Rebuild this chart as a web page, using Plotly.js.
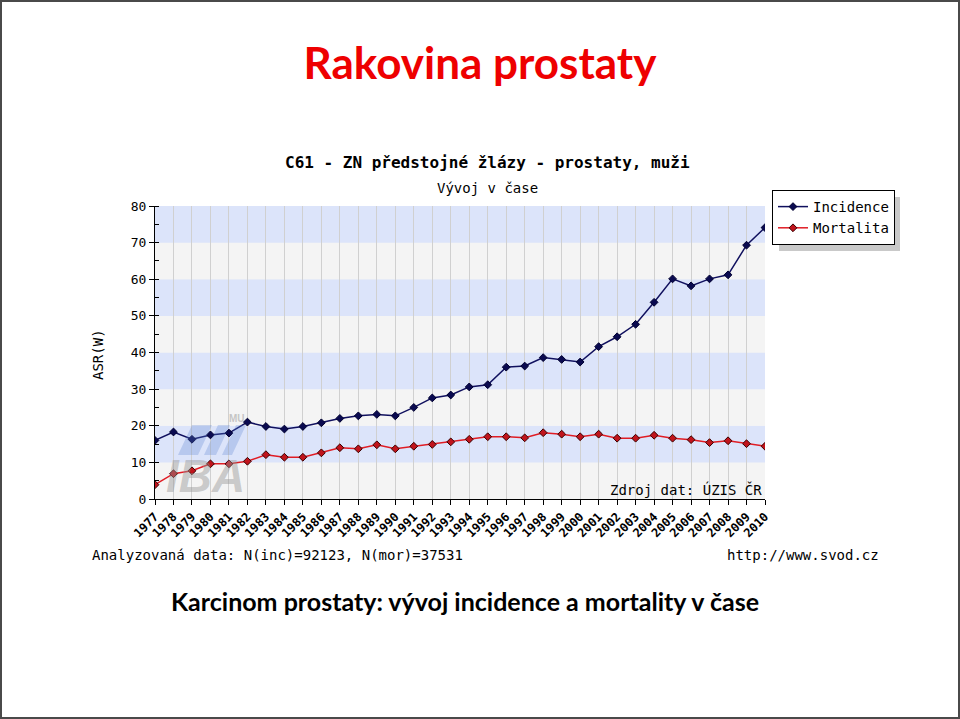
<!DOCTYPE html>
<html>
<head>
<meta charset="utf-8">
<script src="https://cdn.plot.ly/plotly-3.0.1.min.js"></script>
<style>
  html, body { margin: 0; padding: 0; background: #fff; }
  #wrap { position: relative; width: 960px; height: 719px; }
  #chart { width: 960px; height: 719px; }
  #frame { position: absolute; left: 0; top: 0; width: 960px; height: 719px; box-sizing: border-box; border: 2px solid #4a4a4a; pointer-events: none; }
</style>
</head>
<body>
<div id="wrap"><div id="chart"></div><div id="frame"></div></div>
<script>
// ---- data ----
const years = [1977,1978,1979,1980,1981,1982,1983,1984,1985,1986,1987,1988,1989,1990,1991,1992,1993,
               1994,1995,1996,1997,1998,1999,2000,2001,2002,2003,2004,2005,2006,2007,2008,2009,2010];
const incidence = [16.0,18.3,16.3,17.5,18.0,21.0,19.8,19.1,19.8,20.8,22.0,22.7,23.1,22.7,25.0,27.6,28.4,
                   30.6,31.2,36.0,36.3,38.6,38.1,37.4,41.6,44.3,47.7,53.7,60.1,58.2,60.1,61.2,69.3,74.1];
const mortality = [3.9,6.9,7.7,9.6,9.6,10.3,12.1,11.4,11.4,12.6,14.0,13.7,14.8,13.7,14.4,14.9,15.6,
                   16.3,17.0,17.0,16.7,18.1,17.7,17.0,17.7,16.6,16.6,17.4,16.6,16.2,15.4,15.9,15.1,14.4];
const seriesNames = ['Incidence', 'Mortalita'];
const yTicks = [0,10,20,30,40,50,60,70,80];

// ---- layout helpers (pixel -> paper) ----
const L = 155, R = 765, T = 206, B = 499;
const px = x => (x - L) / (R - L);
const py = y => (B - y) / (B - T);
const mono = 'DejaVu Sans Mono, monospace';

const traces = [
  { x: years, y: incidence, name: seriesNames[0], type: 'scatter', mode: 'lines+markers',
    line: { color: '#10105e', width: 1.5 },
    marker: { symbol: 'diamond', size: 6, color: '#0a0a50', line: { color: '#000030', width: 1 } } },
  { x: years, y: mortality, name: seriesNames[1], type: 'scatter', mode: 'lines+markers',
    line: { color: '#e01c24', width: 1.5 },
    marker: { symbol: 'diamond', size: 6, color: '#c0141c', line: { color: '#3a0000', width: 1 } } }
];

// background bands
const shapes = [];
for (let i = 0; i < yTicks.length - 1; i++) {
  shapes.push({ type: 'rect', xref: 'paper', yref: 'y', x0: 0, x1: 1, y0: yTicks[i], y1: yTicks[i+1],
    layer: 'below', line: { width: 0 }, fillcolor: (i % 2 === 1) ? '#dce4fa' : '#f4f4f4' });
}
// legend shadow
shapes.push({ type: 'rect', xref: 'paper', yref: 'paper', x0: px(779), x1: px(900), y0: py(251), y1: py(197),
  line: { width: 0 }, fillcolor: '#c9c9c9', layer: 'below' });
// watermark stripes
shapes.push({ type: 'path', xref: 'paper', yref: 'paper', layer: 'above',
  path: `M ${px(178)} ${py(455)} L ${px(192)} ${py(425)} L ${px(212)} ${py(425)} L ${px(198)} ${py(455)} Z ` +
        `M ${px(204)} ${py(455)} L ${px(218)} ${py(425)} L ${px(230)} ${py(425)} L ${px(216)} ${py(455)} Z ` +
        `M ${px(222)} ${py(455)} L ${px(236)} ${py(425)} L ${px(246)} ${py(425)} L ${px(232)} ${py(455)} Z`,
  fillcolor: 'rgba(90,130,210,0.28)', line: { width: 0 } });

const annotations = [
  { text: '<b>C61 - ZN předstojné žlázy - prostaty, muži</b>', xref: 'paper', yref: 'paper',
    x: px(487), y: py(162), xanchor: 'center', yanchor: 'middle', showarrow: false,
    font: { family: mono, size: 16, color: '#000' } },
  { text: 'Vývoj v čase', xref: 'paper', yref: 'paper', x: px(487), y: py(188),
    xanchor: 'center', yanchor: 'middle', showarrow: false, font: { family: mono, size: 14, color: '#000' } },
  { text: 'ASR(W)', xref: 'paper', yref: 'paper', x: px(98), y: py(355), textangle: -90,
    xanchor: 'center', yanchor: 'middle', showarrow: false, font: { family: mono, size: 14, color: '#000' } },
  { text: 'Analyzovaná data: N(inc)=92123, N(mor)=37531', xref: 'paper', yref: 'paper', x: px(90), y: py(555),
    xanchor: 'left', yanchor: 'middle', showarrow: false, font: { family: mono, size: 14, color: '#000' } },
  { text: 'http://www.svod.cz', xref: 'paper', yref: 'paper', x: px(881), y: py(555),
    xanchor: 'right', yanchor: 'middle', showarrow: false, font: { family: mono, size: 14, color: '#000' } },
  { text: 'Zdroj dat: ÚZIS ČR', xref: 'paper', yref: 'paper', x: px(764), y: py(489),
    xanchor: 'right', yanchor: 'middle', showarrow: false, font: { family: mono, size: 14, color: '#000' } },
  { text: '<b><i>IBA</i></b>', xref: 'paper', yref: 'paper', x: px(205), y: py(476),
    xanchor: 'center', yanchor: 'middle', showarrow: false,
    font: { family: 'Liberation Sans, Arial', size: 46, color: 'rgba(150,150,150,0.45)' } },
  { text: '<b>MU</b>', xref: 'paper', yref: 'paper', x: px(237), y: py(418),
    xanchor: 'center', yanchor: 'middle', showarrow: false,
    font: { family: 'Liberation Sans, Arial', size: 10, color: 'rgba(150,150,150,0.5)' } },
  { text: '<b>Karcinom prostaty: vývoj incidence a mortality v čase</b>', xref: 'paper', yref: 'paper',
    x: px(465), y: py(601), xanchor: 'center', yanchor: 'middle', showarrow: false,
    font: { family: 'Lato, Open Sans, sans-serif', size: 25, color: '#000' } }
];

const layout = {
  width: 960, height: 719,
  margin: { l: L, r: 960 - R, t: T, b: 719 - B, pad: 0 },
  paper_bgcolor: '#ffffff', plot_bgcolor: '#f4f4f4',
  title: { text: '<b>Rakovina prostaty</b>', x: 0.5, xref: 'container', xanchor: 'center',
    y: 1 - 64 / 719, yref: 'container', yanchor: 'middle',
    font: { family: 'Lato, Open Sans, sans-serif', size: 44, color: '#ee0000' } },
  xaxis: {
    range: [1977, 2010], tickmode: 'array', tickvals: years, ticktext: years.map(String),
    tickangle: -45, showgrid: true, gridcolor: '#d0d0d0', gridwidth: 1, zeroline: false,
    showline: true, linecolor: '#000', linewidth: 1, ticks: 'outside', ticklen: 5, tickcolor: '#000',
    tickfont: { family: mono, size: 12, color: '#000', weight: 'bold' }, fixedrange: true
  },
  yaxis: {
    range: [0, 80], tickvals: yTicks, showgrid: false, zeroline: false,
    showline: true, linecolor: '#000', linewidth: 1, ticks: 'outside', ticklen: 5, tickcolor: '#000',
    minor: { dtick: 5, ticks: 'inside', ticklen: 4, tickcolor: '#000', showgrid: false },
    tickfont: { family: mono, size: 13, color: '#000' }, fixedrange: true
  },
  legend: {
    x: px(772), y: py(190), xanchor: 'left', yanchor: 'top', xref: 'paper', yref: 'paper',
    bgcolor: '#ffffff', bordercolor: '#000', borderwidth: 1,
    font: { family: mono, size: 14, color: '#000' }, itemwidth: 30, tracegroupgap: 0
  },
  showlegend: true,
  shapes: shapes,
  annotations: annotations
};

Plotly.newPlot('chart', traces, layout, { displayModeBar: false, staticPlot: true });
</script>
</body>
</html>
